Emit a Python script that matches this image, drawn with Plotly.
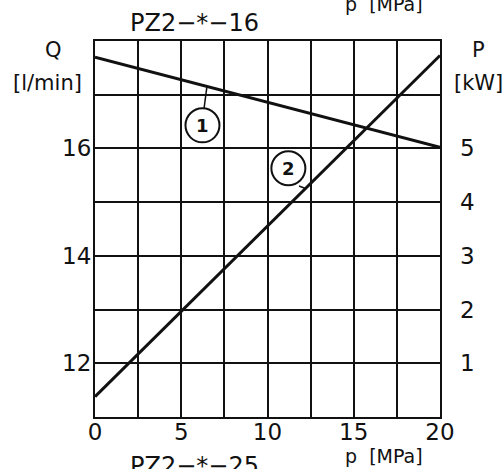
import numpy as np
import plotly.graph_objects as go

# ---- data ----
p_ends = [0, 20]            # pressure p [MPa]
Q_ends = [17.7, 16.02]      # curve 1: flow Q [l/min]
P_ends = [0.38, 6.73]       # curve 2: power P [kW]

x_tickvals = [0, 2.5, 5, 7.5, 10, 12.5, 15, 17.5, 20]
x_ticktext = ["0", "", "5", "", "10", "", "15", "", "20"]
q_tickvals = [11, 12, 13, 14, 15, 16, 17, 18]
q_ticktext = ["", "12", "", "14", "", "16", "", ""]
pw_tickvals = [1, 2, 3, 4, 5]
pw_ticktext = ["1", "2", "3", "4", "5"]

callout_labels = ["1", "2"]

FONT = "DejaVu Sans"
INK = "#111111"

fig = go.Figure()
fig.add_trace(go.Scatter(x=p_ends, y=Q_ends, mode="lines",
                         line=dict(color=INK, width=3), yaxis="y",
                         showlegend=False, hoverinfo="skip"))
fig.add_trace(go.Scatter(x=p_ends, y=P_ends, mode="lines",
                         line=dict(color=INK, width=3), yaxis="y2",
                         showlegend=False, hoverinfo="skip"))

# callout circles (anchored in data space, sized in pixels)
c1 = (6.23, 16.43)   # on Q axis
c2 = (11.21, 4.63)   # on P axis
shapes = [
    dict(type="circle", xref="x", yref="y", xsizemode="pixel", ysizemode="pixel",
         xanchor=c1[0], yanchor=c1[1], x0=-17, x1=17, y0=-17, y1=17,
         line=dict(color=INK, width=2), fillcolor="white"),
    dict(type="circle", xref="x", yref="y2", xsizemode="pixel", ysizemode="pixel",
         xanchor=c2[0], yanchor=c2[1], x0=-17, x1=17, y0=-17, y1=17,
         line=dict(color=INK, width=2), fillcolor="white"),
]
# leaders
l1x = (6.32, 6.49)
shapes.append(dict(type="line", xref="x", yref="y",
                   x0=l1x[0], y0=16.74, x1=l1x[1], y1=float(np.interp(l1x[1], p_ends, Q_ends)),
                   line=dict(color=INK, width=1.5)))
l2x = (11.83, 12.2)
shapes.append(dict(type="line", xref="x", yref="y2",
                   x0=l2x[0], y0=4.30, x1=l2x[1], y1=float(np.interp(l2x[1], p_ends, P_ends)),
                   line=dict(color=INK, width=1.5)))

annotations = [
    dict(x=c1[0], y=c1[1], xref="x", yref="y", text=callout_labels[0], showarrow=False,
         font=dict(family="DejaVu Sans", size=18, color=INK, weight="bold")),
    dict(x=c2[0], y=c2[1], xref="x", yref="y2", text=callout_labels[1], showarrow=False,
         font=dict(family="DejaVu Sans", size=18, color=INK, weight="bold")),
]

def px(xp, yp):
    # helper to convert pixel location to paper coords (plot area 95..440 x 41..417)
    return (xp - 95) / 345.0, (417 - yp) / 376.0

for text, (xp, yp), size in [
    ("PZ2−*−16", (194.5, 22.5), 24),
    ("PZ2−*−25", (194.5, 466), 24),
    ("p  [MPa]", (384, 3.5), 19),
    ("p  [MPa]", (384, 455.5), 19),
    ("Q", (53.5, 50.5), 21),
    ("[l/min]", (47.5, 82.5), 21),
    ("P", (478, 50.5), 21),
    ("[kW]", (478, 82.5), 21),
]:
    xx, yy = px(xp, yp)
    annotations.append(dict(x=xx, y=yy, xref="paper", yref="paper", text=text,
                            showarrow=False, xanchor="center", yanchor="middle",
                            font=dict(family=FONT, size=size, color=INK)))

grid = dict(showgrid=True, gridcolor=INK, gridwidth=2, zeroline=False,
            showline=True, linecolor=INK, linewidth=2, mirror=True, ticks="")

fig.update_layout(
    width=504, height=469, autosize=False,
    margin=dict(l=95, r=64, t=41, b=52, pad=0),
    paper_bgcolor="white", plot_bgcolor="white",
    font=dict(family=FONT, color=INK),
    xaxis=dict(range=[0, 20], tickmode="array", tickvals=x_tickvals, ticktext=x_ticktext,
               tickfont=dict(size=23, color=INK), ticklabelstandoff=-7, **grid),
    yaxis=dict(range=[11, 18], tickmode="array", tickvals=q_tickvals, ticktext=q_ticktext,
               tickfont=dict(size=23, color=INK), ticklabelstandoff=-3, **grid),
    yaxis2=dict(range=[0, 7], overlaying="y", side="right", tickmode="array",
                tickvals=pw_tickvals, ticktext=pw_ticktext, showgrid=False, zeroline=False,
                showline=False, ticks="", tickfont=dict(size=23, color=INK),
                ticklabelstandoff=19),
    shapes=shapes,
    annotations=annotations,
)

fig.write_html("out.html", config={"displayModeBar": False},
               post_script="document.body.style.margin='0';document.body.style.overflow='hidden';")
